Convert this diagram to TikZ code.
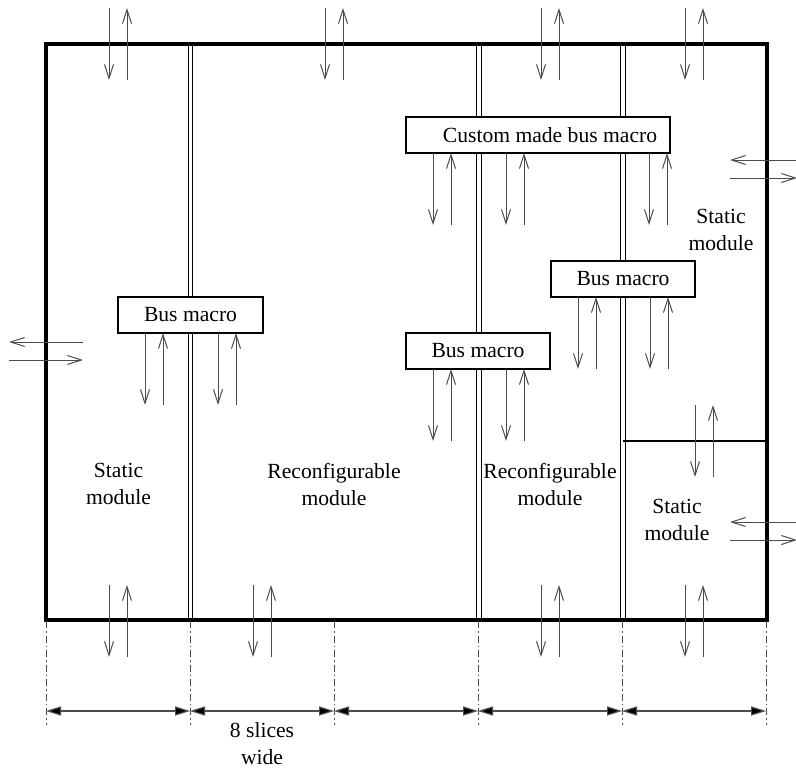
\documentclass[tikz,border=0pt]{standalone}
\usepackage{fontspec}
\setmainfont{Liberation Serif}
\usetikzlibrary{arrows.meta}

\tikzset{
  frame/.style={line width=3.2pt, line join=miter},
  busline/.style={double, double distance=3.6pt, line width=1.1pt},
  busbox/.style={draw, fill=white, line width=1.5pt, minimum height=36pt,
    inner sep=0pt, font=\fontsize{21.6}{27}\selectfont},
  label/.style={align=center, inner sep=0pt, font=\fontsize{21.6}{27}\selectfont},
  sig/.style={line width=1pt, draw=black!70, -{Straight Barb[length=14pt,width=9pt,line width=1pt]}},
  extline/.style={line width=0.8pt, draw=black!70, dash pattern=on 7pt off 3pt on 1.5pt off 3pt},
  dimline/.style={line width=1.2pt, draw=black!70,
    {Triangle[length=15pt,width=9pt,fill=black]}-{Triangle[length=15pt,width=9pt,fill=black]}},
}

% a pair of opposite signals: down at #1-9, up at #1+9, between heights #2 and #3
\newcommand\sigpair[3]{%
  \draw[sig] (#1-9,#2) -- (#1-9,#3);
  \draw[sig] (#1+9,#3) -- (#1+9,#2);}
% a pair of opposite signals crossing a vertical edge
\newcommand\sigside[4]{%
  \draw[sig] (#1,#3) -- (#2,#3);
  \draw[sig] (#2,#4) -- (#1,#4);}

\begin{document}
\begin{tikzpicture}[x=1pt,y=-1pt]
\useasboundingbox (0,0) rectangle (796,769);

% bus lines between the modules
\draw[busline] (190.5,44) -- (190.5,620);
\draw[busline] (479,44) -- (479,620);
\draw[busline] (623,44) -- (623,620);

% outer frame and the split of the right column
\draw[frame] (46,44) rectangle (767,620);
\draw[line width=1.8pt] (623,441) -- (767,441);

% bus macros
\node[busbox, minimum width=145pt] (bmA) at (190.5,315) {Bus macro};
\node[busbox, minimum width=264pt] (bmC) at (538,135) {\hspace*{24pt}Custom made bus macro};
\node[busbox, minimum width=144pt] (bmB) at (478,351) {Bus macro};
\node[busbox, minimum width=144pt] (bmD) at (623,279) {Bus macro};

% signals below the bus macros
\sigpair{154}{333}{405}
\sigpair{227}{333}{405}
\sigpair{442}{153}{225}
\sigpair{515}{153}{225}
\sigpair{658}{153}{225}
\sigpair{442}{369}{441}
\sigpair{515}{369}{441}
\sigpair{587}{297}{369}
\sigpair{659}{297}{369}

% signals across the top edge
\sigpair{118}{8}{80}
\sigpair{334}{8}{80}
\sigpair{550}{8}{80}
\sigpair{694}{8}{80}

% signals across the bottom edge
\sigpair{118}{585}{657}
\sigpair{262}{585}{657}
\sigpair{550}{585}{657}
\sigpair{694}{585}{657}

% signal across the split of the right column
\sigpair{704}{405}{477}

% signals across the side edges
\sigside{83}{9}{342}{360}
\sigside{730}{797}{178}{160}
\sigside{730}{797}{540}{522}

% module names
\node[label] (smL) at (118.5,483.5) {Static\\module};
\node[label] (rmA) at (334,484.5) {Reconfigurable\\module};
\node[label] (rmB) at (550,484.5) {Reconfigurable\\module};
\node[label] (smT) at (721,229.5) {Static\\module};
\node[label] (smB) at (677,519.5) {Static\\module};

% slice grid dimensions
\foreach \x in {46,190,334,478,622,766}
  \draw[extline] (\x,621) -- (\x,725);
\foreach \a/\b in {46/190,190/334,334/478,478/622,622/766}
  \draw[dimline] (\a,711) -- (\b,711);
\node[label] (slw) at (262,744) {8 slices\\wide};
\end{tikzpicture}
\end{document}
